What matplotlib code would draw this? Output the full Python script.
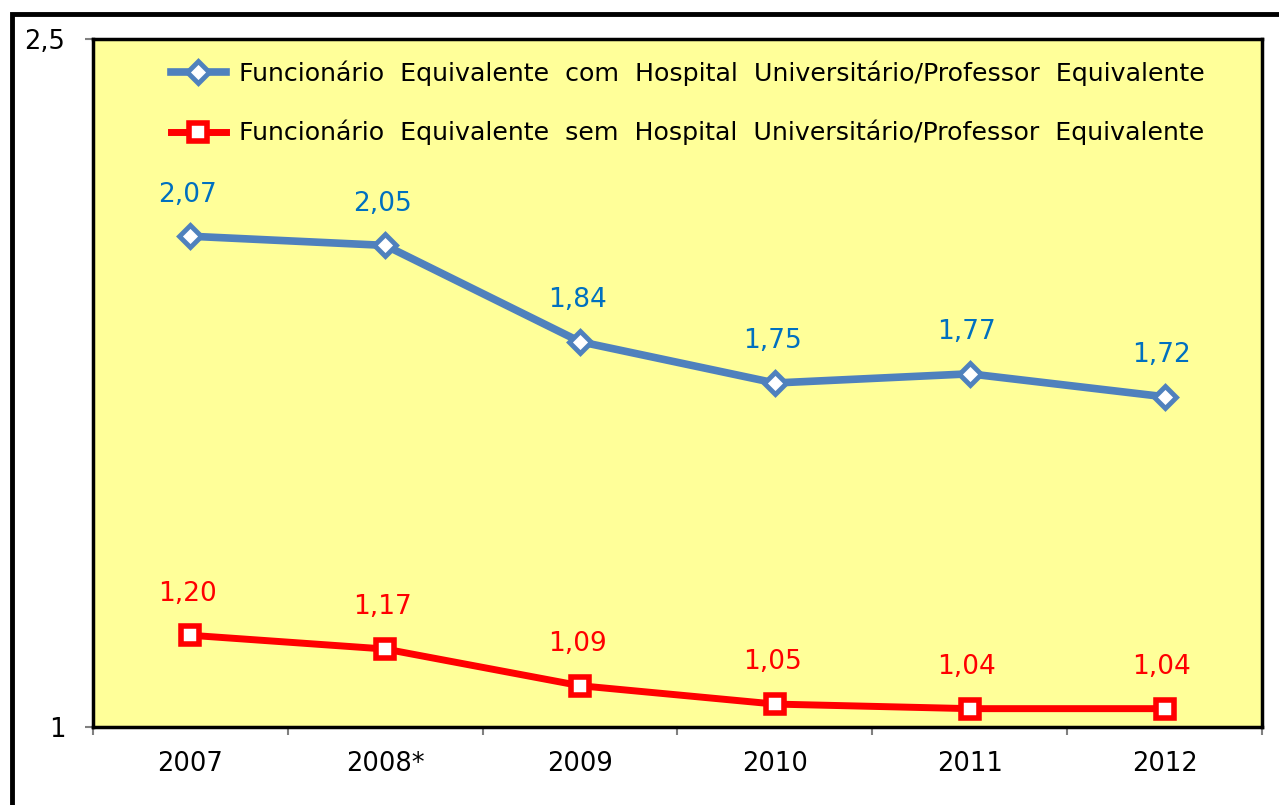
import matplotlib.pyplot as plt
from matplotlib.patches import Rectangle
from matplotlib.ticker import FixedLocator

anos = ['2007', '2008*', '2009', '2010', '2011', '2012']
com_hu = [2.07, 2.05, 1.84, 1.75, 1.77, 1.72]
sem_hu = [1.20, 1.17, 1.09, 1.05, 1.04, 1.04]
nome_com = 'Funcionário  Equivalente  com  Hospital  Universitário/Professor  Equivalente'
nome_sem = 'Funcionário  Equivalente  sem  Hospital  Universitário/Professor  Equivalente'

azul = '#4F81BD'
azul_txt = '#0070C0'
vermelho = '#FF0000'

plt.rcParams['font.family'] = ['DejaVu Sans']

fig = plt.figure(figsize=(12.79, 8.05), dpi=100)
fig.patch.set_facecolor('white')

# moldura externa
fig.patches.append(Rectangle((12 / 1279, -0.1), 1.2, (805 - 14) / 805 + 0.1,
                             transform=fig.transFigure, fill=False,
                             edgecolor='black', linewidth=3.5))

ax = fig.add_axes([93 / 1279, 1 - 727 / 805, (1262 - 93) / 1279, (727 - 39) / 805])
ax.set_facecolor('#FFFF99')

x = list(range(len(anos)))
ax.plot(x, com_hu, color=azul, linewidth=5.5, marker='D', markersize=11,
        markerfacecolor='white', markeredgecolor=azul, markeredgewidth=3.5,
        label=nome_com, zorder=3)
ax.plot(x, sem_hu, color=vermelho, linewidth=5, marker='s', markersize=13,
        markerfacecolor='white', markeredgecolor=vermelho, markeredgewidth=4,
        label=nome_sem, zorder=3)

for xi, v in zip(x, com_hu):
    ax.annotate(f'{v:.2f}'.replace('.', ','), (xi, v), xytext=(-2, 30),
                textcoords='offset points', ha='center', va='center',
                fontsize=19, color=azul_txt)
for xi, v in zip(x, sem_hu):
    ax.annotate(f'{v:.2f}'.replace('.', ','), (xi, v), xytext=(-2, 30),
                textcoords='offset points', ha='center', va='center',
                fontsize=19, color=vermelho)

ax.set_xlim(-0.5, len(anos) - 0.5)
ax.set_ylim(1, 2.5)
ax.set_yticks([1, 2.5])
ax.set_yticklabels(['1', '2,5'])

ax.xaxis.set_major_locator(FixedLocator([i - 0.5 for i in range(len(anos) + 1)]))
ax.xaxis.set_minor_locator(FixedLocator(x))
ax.set_xticklabels([], minor=False)
ax.set_xticklabels(anos, minor=True)
ax.tick_params(axis='x', which='major', direction='out', length=6, width=1.5, color='#808080')
ax.tick_params(axis='x', which='minor', length=0, pad=17, labelsize=18.5)
ax.tick_params(axis='y', direction='out', length=6, width=1.5, color='#808080',
               pad=14, labelsize=18.5)

for s in ax.spines.values():
    s.set_color('black')
    s.set_linewidth(2.5)

leg = ax.legend(loc='upper left', bbox_to_anchor=(0.047, 1.002), frameon=False,
                fontsize=18.2, handlelength=2.2, labelspacing=1.35, handletextpad=0.5)

fig.savefig('out.png', dpi=100)
